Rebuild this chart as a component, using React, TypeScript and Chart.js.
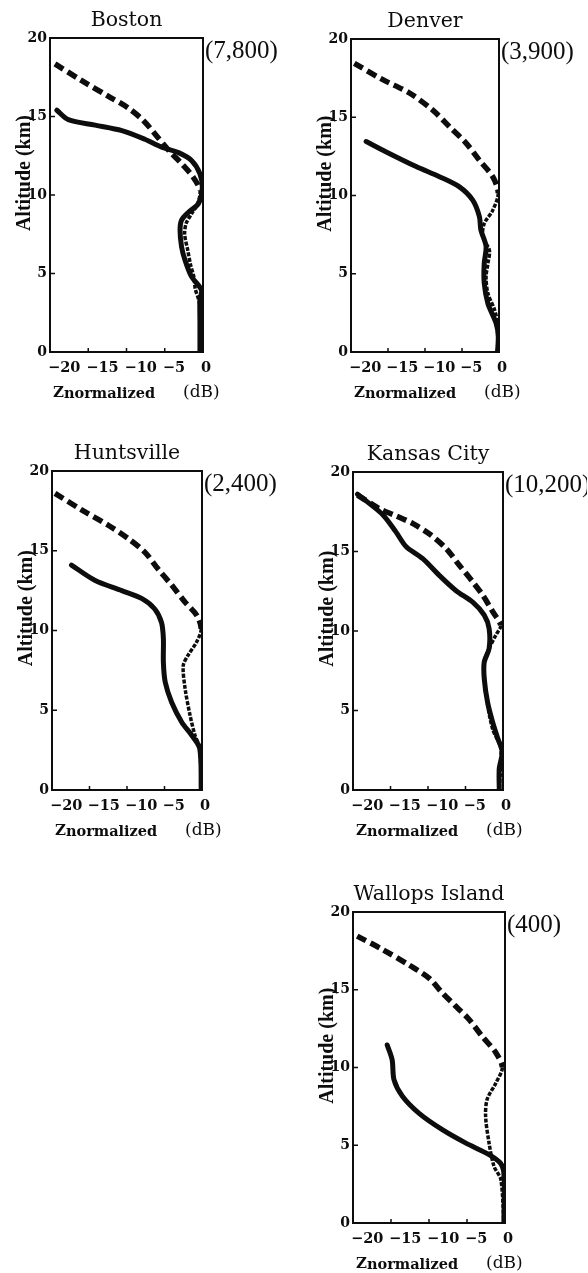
import React, { useEffect, useRef } from "react";
import { Chart, registerables } from "chart.js";

Chart.register(...registerables);

// ---------------- text ----------------
const cityNames = ["Boston", "Denver", "Huntsville", "Kansas City", "Wallops Island"];
const stationCounts = ["(7,800)", "(3,900)", "(2,400)", "(10,200)", "(400)"];
const xTickValues = [-20, -15, -10, -5, 0];
const yTickValues = [0, 5, 10, 15, 20];
const yAxisLabel = "Altitude (km)";
const xAxisLabelMain = "Z";
const xAxisLabelSub = "normalized";
const xAxisUnit = "(dB)";

// ---------------- data: Z normalized (dB) vs altitude (km) ----------------
// Boston
const bostonSolidDb = [-19.1, -17.6, -14.1, -10.6, -7.6, -5.4, -3.2, -1.5, -0.4, -0.1, -0.6, -1.9, -2.8, -3.0, -2.8, -2.35, -1.5, -0.2, -0.4, -0.4, -0.4];
const bostonSolidKm = [15.4, 14.8, 14.45, 14.1, 13.55, 13.05, 12.7, 12.2, 11.35, 10.4, 9.45, 8.9, 8.4, 7.75, 6.7, 5.85, 4.8, 3.95, 3.3, 1.8, 0];
const bostonModelDb = [-19.35, -15.9, -12.4, -9.8, -7.8, -6.3, -4.5, -2.8, -1.3, -0.4, -0.7, -1.5, -2.2, -2.4, -2.0, -1.6, -1.2, -1.0, -0.5, -0.4, -0.4];
const bostonModelKm = [18.35, 17.3, 16.3, 15.55, 14.75, 13.9, 12.85, 12.0, 11.15, 10.3, 9.45, 8.8, 8.2, 7.5, 6.5, 5.5, 4.8, 4.0, 3.2, 2.0, 0];

// Denver
const denverSolidDb = [-17.95, -15.3, -11.2, -8.05, -5.35, -3.55, -2.65, -2.45, -1.75, -2.0, -2.0, -1.5, -0.4, -0.1, -0.2];
const denverSolidKm = [13.45, 12.8, 11.85, 11.2, 10.55, 9.7, 8.65, 7.8, 6.75, 5.65, 4.4, 3.1, 1.85, 1.0, 0];
const denverModelDb = [-19.55, -15.7, -12.1, -8.95, -6.7, -4.45, -2.65, -0.85, -0.1, -0.85, -2.0, -2.2, -1.3, -1.5, -1.75, -1.5, -0.6, -0.2, -0.1, -0.2];
const denverModelKm = [18.45, 17.4, 16.55, 15.45, 14.4, 13.35, 12.25, 11.2, 10.15, 9.05, 8.2, 7.35, 6.5, 5.65, 4.8, 3.75, 2.7, 1.85, 0.8, 0];

// Huntsville
const huntsvilleSolidDb = [-17.4, -14.3, -10.7, -8.0, -6.3, -5.4, -5.15, -5.15, -4.9, -4.05, -2.7, -1.4, -0.3, -0.1];
const huntsvilleSolidKm = [14.1, 13.15, 12.5, 12.0, 11.35, 10.5, 9.5, 8.0, 6.75, 5.5, 4.25, 3.45, 2.6, 0];
const huntsvilleModelDb = [-19.6, -16.0, -12.5, -9.8, -7.6, -5.85, -4.05, -2.3, -0.7, -0.1, -0.7, -1.85, -2.5, -2.25, -1.6, -0.95, -0.3, -0.1];
const huntsvilleModelKm = [18.6, 17.55, 16.6, 15.75, 14.9, 13.85, 12.85, 11.8, 10.95, 10.1, 9.3, 8.45, 7.8, 6.35, 4.7, 3.45, 2.6, 0];

// Kansas City
const kansasSolidDb = [-19.4, -18.3, -16.0, -14.3, -12.9, -10.7, -8.5, -6.3, -4.0, -2.5, -1.85, -1.85, -2.5, -2.5, -2.05, -1.4, -0.7, -0.1, -0.5, -0.5];
const kansasSolidKm = [18.6, 18.2, 17.3, 16.25, 15.3, 14.55, 13.5, 12.55, 11.8, 11.0, 10.15, 8.9, 8.05, 7.0, 5.5, 4.3, 3.25, 2.4, 1.35, 0];
const kansasModelDb = [-19.4, -16.5, -14.3, -12.0, -9.8, -7.6, -5.85, -4.05, -2.7, -1.35, -0.3, -0.95, -1.85, -2.5, -2.25, -1.4, -0.3, -0.5];
const kansasModelKm = [18.55, 17.7, 17.25, 16.75, 16.1, 15.2, 14.15, 13.1, 12.25, 11.2, 10.35, 9.75, 8.9, 8.05, 6.0, 3.85, 2.6, 0];

// Wallops Island
const wallopsSolidDb = [-15.5, -14.85, -14.6, -13.5, -11.3, -8.25, -5.2, -2.1, -0.6, -0.15, -0.1, -0.15];
const wallopsSolidKm = [11.45, 10.5, 9.2, 8.15, 7.05, 6.0, 5.15, 4.4, 3.85, 3.2, 1.3, 0];
const wallopsModelDb = [-19.45, -16.15, -12.65, -10.0, -8.25, -6.5, -4.75, -3.0, -1.2, -0.35, -1.2, -2.35, -2.55, -2.1, -1.45, -0.55, -0.15];
const wallopsModelKm = [18.45, 17.6, 16.6, 15.75, 14.8, 13.95, 13.1, 12.0, 10.95, 10.0, 9.0, 7.95, 6.85, 5.15, 3.65, 2.8, 0];

// ---------------- layout / style ----------------
const INK = "#0d0d0d";
const LEFT_SPACE = 52;
const TOP_SPACE = 40;
const RIGHT_SPACE = 84;
const BOTTOM_SPACE = 56;

type Box = { l: number; t: number; r: number; b: number };
type PanelDef = {
  name: string;
  count: string;
  solid: [number[], number[]];
  model: [number[], number[]];
  dotBelowKm: number;
  box: Box;
};

const panels: PanelDef[] = [
  { name: cityNames[0], count: stationCounts[0], solid: [bostonSolidDb, bostonSolidKm], model: [bostonModelDb, bostonModelKm], dotBelowKm: 10.3, box: { l: 50, t: 38, r: 203, b: 352 } },
  { name: cityNames[1], count: stationCounts[1], solid: [denverSolidDb, denverSolidKm], model: [denverModelDb, denverModelKm], dotBelowKm: 10.15, box: { l: 351, t: 39, r: 499, b: 352 } },
  { name: cityNames[2], count: stationCounts[2], solid: [huntsvilleSolidDb, huntsvilleSolidKm], model: [huntsvilleModelDb, huntsvilleModelKm], dotBelowKm: 10.1, box: { l: 52, t: 471, r: 202, b: 790 } },
  { name: cityNames[3], count: stationCounts[3], solid: [kansasSolidDb, kansasSolidKm], model: [kansasModelDb, kansasModelKm], dotBelowKm: 10.35, box: { l: 353, t: 472, r: 503, b: 790 } },
  { name: cityNames[4], count: stationCounts[4], solid: [wallopsSolidDb, wallopsSolidKm], model: [wallopsModelDb, wallopsModelKm], dotBelowKm: 10.0, box: { l: 353, t: 912, r: 505, b: 1223 } },
];

const toPoints = (xs: number[], ys: number[]) => xs.map((x, i) => ({ x, y: ys[i] }));
const fmtTick = (v: number) => (v < 0 ? "\u2212" + Math.abs(v) : String(v));

const decorPlugin = {
  id: "panelDecor",
  beforeDatasetsDraw(chart: any) {
    const { ctx, chartArea: a } = chart;
    const xs = chart.scales.x;
    const ys = chart.scales.y;
    ctx.save();
    ctx.strokeStyle = INK;
    ctx.lineWidth = 2;
    ctx.strokeRect(a.left, a.top, a.right - a.left, a.bottom - a.top);
    ctx.lineWidth = 1.5;
    ctx.beginPath();
    xs.ticks.forEach((t: any) => {
      if (t.value > xs.min && t.value < xs.max) {
        const px = xs.getPixelForValue(t.value);
        ctx.moveTo(px, a.bottom);
        ctx.lineTo(px, a.bottom - 4);
      }
    });
    ys.ticks.forEach((t: any) => {
      if (t.value > ys.min && t.value < ys.max) {
        const py = ys.getPixelForValue(t.value);
        ctx.moveTo(a.left, py);
        ctx.lineTo(a.left + 5, py);
      }
    });
    ctx.stroke();
    ctx.restore();
  },
  afterDraw(chart: any, _args: any, opts: any) {
    const { ctx, chartArea: a } = chart;
    ctx.save();
    ctx.fillStyle = INK;
    // station count, top right outside frame
    ctx.font = "25px 'Liberation Serif', serif";
    ctx.textAlign = "left";
    ctx.textBaseline = "alphabetic";
    ctx.fillText(opts.count, a.right + 2, a.top + 20);
    // y axis label
    ctx.save();
    ctx.translate(a.left - 25, a.top + 0.43 * (a.bottom - a.top));
    ctx.rotate(-Math.PI / 2);
    ctx.textAlign = "center";
    ctx.textBaseline = "middle";
    ctx.font = "bold 20px 'Liberation Serif', serif";
    ctx.fillText(yAxisLabel, 0, 0);
    ctx.restore();
    // x axis label: Z normalized (dB)
    const base = a.bottom + 45;
    ctx.textAlign = "left";
    ctx.font = "bold 15px 'DejaVu Serif', serif";
    const zx = a.left + 3;
    ctx.fillText(xAxisLabelMain, zx, base);
    const zw = ctx.measureText(xAxisLabelMain).width;
    ctx.font = "bold 14.5px 'DejaVu Serif', serif";
    ctx.fillText(xAxisLabelSub, zx + zw, base + 1);
    ctx.font = "17px 'DejaVu Serif', serif";
    ctx.fillText(xAxisUnit, a.left + 133, base);
    ctx.restore();
  },
};

function Panel({ p }: { p: PanelDef }) {
  const ref = useRef<HTMLCanvasElement | null>(null);
  const w = p.box.r - p.box.l + LEFT_SPACE + RIGHT_SPACE;
  const h = p.box.b - p.box.t + TOP_SPACE + BOTTOM_SPACE;

  useEffect(() => {
    if (!ref.current) return;
    const thin = (c: any) => c.p0.parsed.y <= p.dotBelowKm + 0.001;
    const chart = new Chart(ref.current, {
      type: "scatter",
      data: {
        datasets: [
          {
            label: "model",
            data: toPoints(p.model[0], p.model[1]),
            showLine: true,
            borderColor: INK,
            backgroundColor: INK,
            borderWidth: 5.5,
            borderDash: [10, 5],
            borderCapStyle: "butt",
            pointRadius: 0,
            tension: 0.3,
            segment: {
              borderWidth: (c: any) => (thin(c) ? 3.5 : undefined),
              borderDash: (c: any) => (thin(c) ? [4, 1.5] : undefined),
            },
          } as any,
          {
            label: "measured",
            data: toPoints(p.solid[0], p.solid[1]),
            showLine: true,
            borderColor: INK,
            backgroundColor: INK,
            borderWidth: 5,
            borderCapStyle: "round",
            borderJoinStyle: "round",
            pointRadius: 0,
            tension: 0.3,
          } as any,
        ],
      },
      options: {
        animation: false,
        responsive: false,
        events: [],
        layout: { padding: { left: 0, top: 0, right: RIGHT_SPACE, bottom: 0 } },
        plugins: {
          legend: { display: false },
          tooltip: { enabled: false },
          title: {
            display: true,
            text: p.name,
            fullSize: false,
            color: INK,
            font: { family: "'DejaVu Serif', serif", size: 20.5, weight: "normal", lineHeight: 1.2 },
            padding: { top: 10, bottom: 5.4 },
          },
          panelDecor: { count: p.count },
        } as any,
        scales: {
          x: {
            type: "linear",
            position: "bottom",
            min: -20,
            max: 0,
            afterBuildTicks: (s: any) => {
              s.ticks = xTickValues.map((v) => ({ value: v }));
            },
            afterFit: (s: any) => {
              s.height = BOTTOM_SPACE;
              s.paddingLeft = 0;
              s.paddingRight = 0;
            },
            grid: { display: false, drawTicks: false },
            border: { display: false },
            ticks: {
              align: "start",
              labelOffset: -2,
              padding: 8,
              autoSkip: false,
              maxRotation: 0,
              minRotation: 0,
              color: INK,
              font: { family: "'DejaVu Serif', serif", size: 14.5, weight: "bold" },
              callback: (v: any) => fmtTick(Number(v)),
            },
          },
          y: {
            type: "linear",
            position: "left",
            min: 0,
            max: 20,
            afterBuildTicks: (s: any) => {
              s.ticks = yTickValues.map((v) => ({ value: v }));
            },
            afterFit: (s: any) => {
              s.width = LEFT_SPACE;
              s.paddingTop = 0;
              s.paddingBottom = 0;
            },
            grid: { display: false, drawTicks: false },
            border: { display: false },
            ticks: {
              padding: 3,
              autoSkip: false,
              color: INK,
              font: { family: "'DejaVu Serif', serif", size: 14, weight: "bold" },
              callback: (v: any) => fmtTick(Number(v)),
            },
          },
        },
      } as any,
      plugins: [decorPlugin as any],
    });
    return () => chart.destroy();
  }, [p]);

  return (
    <canvas
      ref={ref}
      width={w}
      height={h}
      style={{
        position: "absolute",
        left: p.box.l - LEFT_SPACE,
        top: p.box.t - TOP_SPACE,
        width: w,
        height: h,
      }}
    />
  );
}

export default function App() {
  return (
    <div
      style={{
        position: "absolute",
        left: 0,
        top: 0,
        width: 588,
        height: 1273,
        overflow: "hidden",
        background: "#ffffff",
      }}
    >
      {panels.map((p) => (
        <Panel key={p.name} p={p} />
      ))}
    </div>
  );
}
